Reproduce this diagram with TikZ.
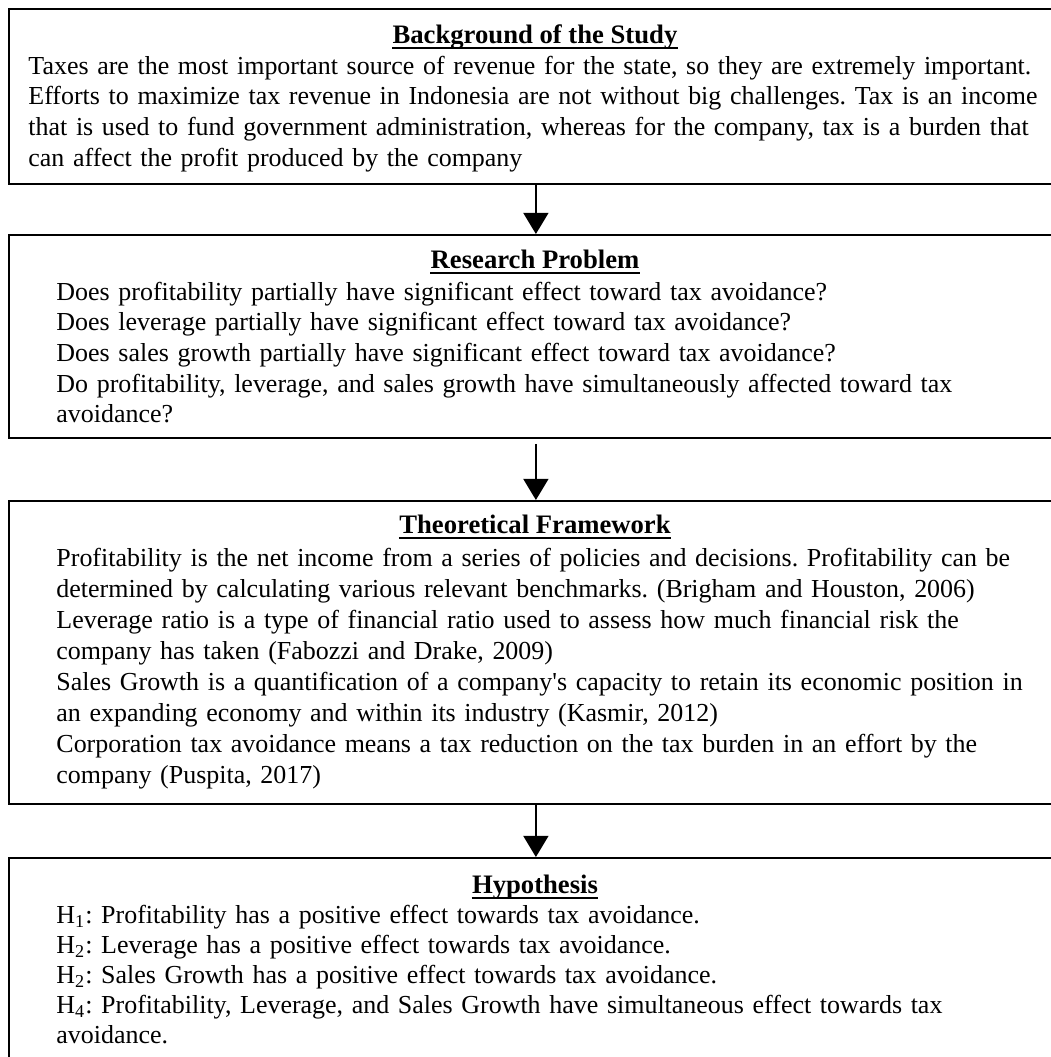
\documentclass[tikz,border=0pt]{standalone}
\usepackage{fontspec}
\setmainfont{Liberation Serif}
\usetikzlibrary{arrows.meta}
\begin{document}
\frenchspacing
\begin{tikzpicture}[x=0.45pt,y=-0.45pt,
  boxstyle/.style={draw, line width=0.8pt, inner sep=0pt, minimum width=474.3pt, anchor=north west},
  bodytext/.style={anchor=base west, inner sep=0pt, text width=470pt, align=left, font=\fontsize{11.68}{#1}\selectfont\frenchspacing},
  bodytext/.default=13.8,
  titletext/.style={anchor=base, inner sep=0pt, font=\fontsize{12}{13.8}\selectfont\bfseries},
  uline/.style={line width=0.6pt},
  arr/.style={line width=0.75pt, -{Triangle[length=9.5pt,width=11.25pt]}}
]
\useasboundingbox (0,0) rectangle (1051,1057);
\clip (0,0) rectangle (1051,1057);

% boxes
\node[boxstyle, minimum height=78.75pt] (b1) at (8,8) {};
\node[boxstyle, minimum height=91.35pt] (b2) at (8,234) {};
\node[boxstyle, minimum height=136.35pt] (b3) at (8,500) {};
\node[boxstyle, minimum height=93.6pt] (b4) at (8,857) {};

% titles
\node[titletext] (t1) at (535,43) {Background of the Study};
\node[titletext] (t2) at (535,268) {Research Problem};
\node[titletext] (t3) at (535,533) {Theoretical Framework};
\node[titletext] (t4) at (535,893) {Hypothesis};
\foreach \t in {t1,t2,t3,t4}
  \draw[uline] ([yshift=-2.3pt]\t.base west) -- ([yshift=-2.3pt]\t.base east);

% body texts
\node[bodytext] (x1) at (28,74) {Taxes are the most important source of revenue for the state, so they are extremely important.\\
Efforts to maximize tax revenue in Indonesia are not without big challenges. Tax is an income\\
that is used to fund government administration, whereas for the company, tax is a burden that\\
can affect the profit produced by the company};

\node[bodytext] (x2) at (56,300) {Does profitability partially have significant effect toward tax avoidance?\\
Does leverage partially have significant effect toward tax avoidance?\\
Does sales growth partially have significant effect toward tax avoidance?\\
Do profitability, leverage, and sales growth have simultaneously affected toward tax\\
avoidance?};

\node[bodytext=14] (x3) at (56,566) {Profitability is the net income from a series of policies and decisions. Profitability can be\\
determined by calculating various relevant benchmarks. (Brigham and Houston, 2006)\\
Leverage ratio is a type of financial ratio used to assess how much financial risk the\\
company has taken (Fabozzi and Drake, 2009)\\
Sales Growth is a quantification of a company\textquotesingle s capacity to retain its economic position in\\
an expanding economy and within its industry (Kasmir, 2012)\\
Corporation tax avoidance means a tax reduction on the tax burden in an effort by the\\
company (Puspita, 2017)};

\node[bodytext=13.5] (x4) at (56,923) {H\textsubscript{1}: Profitability has a positive effect towards tax avoidance.\\
H\textsubscript{2}: Leverage has a positive effect towards tax avoidance.\\
H\textsubscript{2}: Sales Growth has a positive effect towards tax avoidance.\\
H\textsubscript{4}: Profitability, Leverage, and Sales Growth have simultaneous effect towards tax\\
avoidance.};

% arrows
\draw[arr] (b1.south) -- (b2.north);
\draw[arr, shorten <=2.25pt] (b2.south) -- (b3.north);
\draw[arr] (b3.south) -- (b4.north);
\end{tikzpicture}
\end{document}
